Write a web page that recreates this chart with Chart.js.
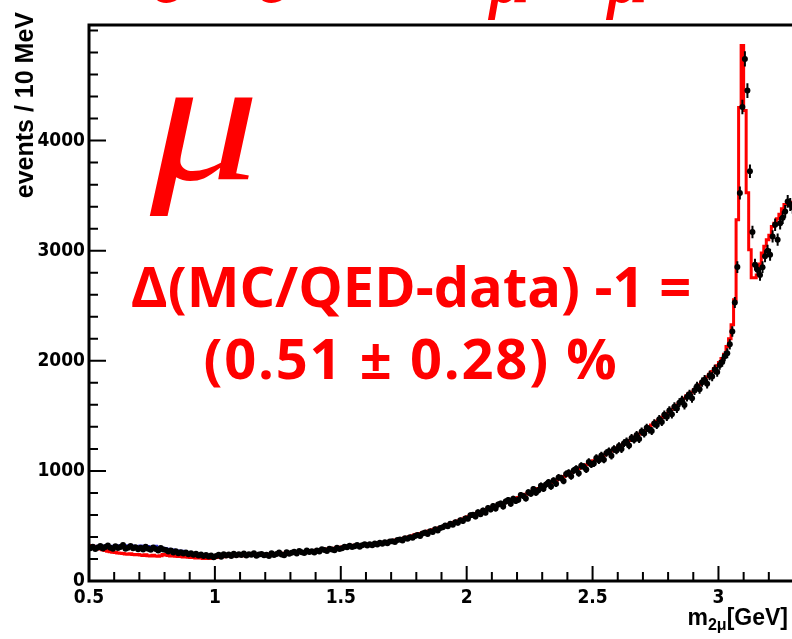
<!DOCTYPE html>
<html>
<head>
<meta charset="utf-8">
<title>m(2mu) spectrum</title>
<script src="https://cdn.jsdelivr.net/npm/chart.js@4"></script>
<style>
  html, body { margin: 0; padding: 0; background: #fff; overflow: hidden; }
  #wrap { position: relative; width: 792px; height: 639px; overflow: hidden; }
  #c { position: absolute; left: 0; top: 0; }
  .red { position: absolute; color: #ff0000; white-space: nowrap; }
  .proc { font: italic 84px "Liberation Serif", serif; top: -88px; }
  #mu { font: italic 175px "Liberation Serif", serif; left: 150px; top: 20px; transform: scaleX(1.25); transform-origin: 0 0; }
  .result { font: bold 56px "Open Sans", sans-serif; left: 11px; width: 800px; text-align: center; }
  #line2 { letter-spacing: 1.8px; }
  #ytitle {
    position: absolute; left: 12px; top: 272px; width: 260px; height: 25px;
    font: bold 25px "Liberation Sans", Arial, sans-serif; line-height: 1;
    text-align: right; white-space: nowrap;
    transform: rotate(-90deg); transform-origin: 0 0;
  }
  #xtitle {
    position: absolute; right: 4px; top: 606px;
    font: bold 23px "Liberation Sans", Arial, sans-serif; line-height: 1; white-space: nowrap;
  }
  #xtitle sub { font-size: 16px; vertical-align: -5px; }
</style>
</head>
<body>
<div id="wrap">
  <canvas id="c" width="800" height="639"></canvas>
  <div class="red proc" style="left:150px">e⁺</div>
  <div class="red proc" style="left:255px">e⁻</div>
  <div class="red proc" style="left:340px">→</div>
  <div class="red proc" style="left:488px">μ⁺</div>
  <div class="red proc" style="left:606px">μ⁻</div>
  <div id="mu" class="red">μ</div>
  <div class="red result" style="top:247px">Δ(MC/QED-data) -1 =</div>
  <div id="line2" class="red result" style="top:319px">(0.51 ± 0.28) %</div>
  <div id="ytitle">events / 10 MeV</div>
  <div id="xtitle">m<sub>2μ</sub>[GeV]</div>
</div>
<script>
// 10 MeV bins from 0.50 to 3.30 GeV
const binLow = 0.5;
const binWidth = 0.01;

// MC histogram (red), one value per bin
const mcCounts = [
  330, 322, 315, 305, 298, 290, 284, 276, 270, 265,
  262, 258, 255, 252, 250, 246, 244, 248, 241, 238,
  240, 236, 232, 238, 230, 226, 234, 228, 224, 230,
  240, 236, 232, 228, 230, 225, 222, 226, 218, 220,
  216, 214, 218, 210, 212, 208, 205, 210, 204, 206,
  210, 214, 218, 222, 220, 226, 224, 228, 232, 230,
  232, 235, 230, 236, 238, 234, 240, 237, 242, 238,
  240, 236, 242, 245, 240, 247, 250, 246, 252, 255,
  256, 259, 262, 258, 265, 268, 264, 271, 274, 270,
  276, 280, 283, 286, 282, 290, 294, 291, 298, 302,
  305, 309, 312, 316, 314, 320, 324, 322, 326, 327,
  328, 331, 334, 336, 340, 343, 346, 350, 353, 357,
  362, 366, 371, 376, 381, 387, 392, 398, 404, 411,
  420, 426, 432, 438, 444, 451, 458, 465, 472, 479,
  487, 495, 503, 511, 520, 528, 537, 546, 555, 564,
  574, 583, 592, 601, 610, 619, 628, 638, 647, 656,
  665, 673, 681, 689, 697, 706, 714, 723, 731, 740,
  749, 758, 768, 778, 788, 798, 809, 819, 830, 840,
  851, 861, 872, 883, 894, 905, 916, 928, 939, 950,
  961, 973, 985, 997, 1009, 1021, 1033, 1045, 1057, 1069,
  1081, 1093, 1105, 1117, 1130, 1142, 1155, 1168, 1181, 1194,
  1207, 1220, 1234, 1248, 1262, 1276, 1291, 1306, 1321, 1336,
  1351, 1367, 1383, 1399, 1416, 1433, 1450, 1467, 1485, 1503,
  1521, 1540, 1559, 1579, 1599, 1619, 1640, 1661, 1683, 1705,
  1715, 1737, 1759, 1782, 1805, 1829, 1853, 1878, 1903, 1929,
  1955, 1985, 2020, 2060, 2130, 2200, 2327, 2554, 3282, 4300,
  4863, 4273, 3527, 3009, 2755, 2755, 2780, 2880, 2980, 3040,
  3100, 3140, 3220, 3250, 3290, 3330, 3380, 3420, 3440, 3440
];

// second MC histogram (blue), low-mass bins only
const mcAltCounts = [
  330, 326, 322, 318, 320, 316, 318, 322, 318, 315,
  320, 318, 322, 325, 320, 324, 321, 318, 322, 316,
  318, 322, 315, 320, 317, 312, 316, 320, 310, 306,
  302, 298, 294, 290, 286, 282, 278, 274
];

// data, events per bin
const dataCounts = [
  298, 312, 290, 305, 318, 296, 308, 322, 301, 294,
  315, 299, 309, 326, 292, 303, 318, 297, 306, 288,
  301, 287, 312, 294, 283, 305, 290, 278, 299, 286,
  281, 268, 276, 259, 270, 253, 262, 249, 258, 244,
  252, 239, 247, 232, 241, 228, 236, 222, 231, 215,
  226, 238, 221, 244, 232, 240, 228, 247, 235, 242,
  236, 249, 231, 243, 238, 252, 229, 241, 246, 233,
  239, 228, 251, 236, 245, 258, 241, 234, 262, 248,
  257, 266, 249, 272, 260, 255, 278, 263, 271, 259,
  276, 268, 288, 281, 272, 294, 285, 279, 301, 290,
  298, 312, 306, 321, 309, 316, 328, 311, 324, 333,
  322, 334, 325, 340, 331, 347, 338, 352, 344, 358,
  360, 354, 372, 378, 368, 389, 383, 397, 392, 409,
  418, 409, 431, 440, 428, 452, 446, 470, 459, 481,
  488, 503, 497, 521, 512, 534, 528, 551, 544, 568,
  566, 598, 601, 585, 624, 607, 640, 621, 662, 649,
  681, 658, 694, 703, 676, 722, 735, 701, 748, 727,
  738, 781, 772, 749, 806, 793, 835, 802, 824, 866,
  838, 877, 896, 859, 912, 884, 941, 935, 908, 972,
  984, 951, 1003, 1019, 978, 1046, 1037, 1012, 1081, 1058,
  1067, 1118, 1096, 1141, 1102, 1163, 1178, 1137, 1199, 1186,
  1226, 1198, 1252, 1267, 1231, 1299, 1284, 1327, 1290, 1358,
  1339, 1392, 1376, 1362, 1431, 1418, 1470, 1445, 1509, 1491,
  1548, 1515, 1583, 1566, 1620, 1641, 1598, 1672, 1697, 1659,
  1731, 1768, 1742, 1806, 1829, 1791, 1866, 1858, 1921, 1899,
  1962, 1990, 2041, 2068, 2150, 2266, 2530, 2851, 3524, 4306,
  4742, 4454, 3721, 3170, 2873, 2827, 2780, 2850, 2950, 3000,
  2964, 3130, 3236, 3100, 3250, 3300, 3357, 3448, 3420, 3395
];

const xRange = [0.5, 3.3];
const yRange = [0, 5050];
const xLabelValues = [0.5, 1, 1.5, 2, 2.5, 3];
const yLabelValues = [0, 1000, 2000, 3000, 4000];

function binEdge(i) { return +(binLow + i * binWidth).toFixed(3); }

// histogram outline: left edge of each bin plus the closing right edge
function stepPoints(counts) {
  const pts = counts.map((v, i) => ({ x: binEdge(i), y: v }));
  pts.push({ x: binEdge(counts.length), y: counts[counts.length - 1] });
  return pts;
}

const dataPoints = dataCounts.map((v, i) => ({ x: +(binLow + (i + 0.5) * binWidth).toFixed(4), y: v }));

function isLabelled(list, v) {
  return list.some(l => Math.abs(l - v) < 1e-6);
}

const tickFont = { family: '"Liberation Sans Narrow", "DejaVu Sans Condensed", Arial, sans-serif', size: 19, weight: 'bold' };

// statistical error bars on the data points
const errorBars = {
  id: 'errorBars',
  afterDatasetsDraw(chart) {
    const { ctx, chartArea: a } = chart;
    const y = chart.scales.y;
    const meta = chart.getDatasetMeta(0);
    ctx.save();
    ctx.beginPath();
    ctx.rect(a.left, a.top, a.right - a.left, a.bottom - a.top);
    ctx.clip();
    ctx.strokeStyle = '#000';
    ctx.lineWidth = 2;
    ctx.beginPath();
    meta.data.forEach((pt, i) => {
      const v = dataCounts[i];
      const e = Math.sqrt(v);
      ctx.moveTo(pt.x, y.getPixelForValue(v - e));
      ctx.lineTo(pt.x, y.getPixelForValue(v + e));
    });
    ctx.stroke();
    ctx.restore();
  }
};

// ROOT style frame with inward tick marks
const frameTicks = {
  id: 'frameTicks',
  afterDraw(chart) {
    const { ctx, chartArea: a, scales: { x, y } } = chart;
    ctx.save();
    ctx.strokeStyle = '#000';
    ctx.lineWidth = 2;
    ctx.beginPath();
    x.ticks.forEach(t => {
      const px = x.getPixelForValue(t.value);
      const len = isLabelled(xLabelValues, t.value) ? 15 : 9;
      ctx.moveTo(px, a.bottom);
      ctx.lineTo(px, a.bottom - len);
    });
    y.ticks.forEach(t => {
      const py = y.getPixelForValue(t.value);
      const len = isLabelled(yLabelValues, t.value) ? 17 : 9;
      ctx.moveTo(a.left, py);
      ctx.lineTo(a.left + len, py);
    });
    ctx.stroke();
    ctx.lineWidth = 3;
    ctx.strokeRect(a.left, a.top, a.right - a.left, a.bottom - a.top);
    ctx.restore();
  }
};

new Chart(document.getElementById('c'), {
  type: 'line',
  data: {
    datasets: [
      {
        label: 'data',
        data: dataPoints,
        showLine: false,
        pointRadius: 3,
        pointBorderWidth: 0,
        pointBackgroundColor: '#000',
        order: 0
      },
      {
        label: 'MC',
        data: stepPoints(mcCounts),
        stepped: 'after',
        borderColor: '#ff0000',
        borderWidth: 3,
        pointRadius: 0,
        fill: false,
        order: 1
      },
      {
        label: 'MC alt',
        data: stepPoints(mcAltCounts),
        stepped: 'after',
        borderColor: '#3030d0',
        borderWidth: 2,
        pointRadius: 0,
        fill: false,
        order: 2
      }
    ]
  },
  options: {
    responsive: false,
    animation: false,
    events: [],
    layout: { padding: { top: 25, right: 5, left: 0, bottom: 0 } },
    plugins: { legend: { display: false }, tooltip: { enabled: false } },
    scales: {
      x: {
        type: 'linear',
        min: xRange[0],
        max: xRange[1],
        afterFit(s) { s.height = 58; },
        grid: { display: false, drawTicks: false },
        border: { display: false },
        ticks: {
          stepSize: 0.1,
          includeBounds: false,
          autoSkip: false,
          maxRotation: 0,
          padding: 6,
          color: '#000',
          font: tickFont,
          callback: v => isLabelled(xLabelValues, v) ? String(Math.round(v * 10) / 10) : ''
        }
      },
      y: {
        type: 'linear',
        min: yRange[0],
        max: yRange[1],
        afterFit(s) { s.width = 89; },
        grid: { display: false, drawTicks: false },
        border: { display: false },
        ticks: {
          stepSize: 200,
          includeBounds: false,
          autoSkip: false,
          padding: 4,
          color: '#000',
          font: tickFont,
          callback: v => isLabelled(yLabelValues, v) ? String(Math.round(v)) : ''
        }
      }
    }
  },
  plugins: [errorBars, frameTicks]
});
</script>
</body>
</html>
